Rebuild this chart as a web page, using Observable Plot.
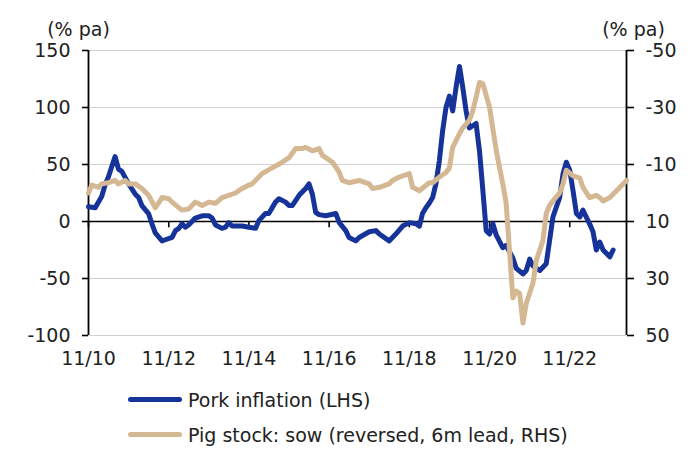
<!DOCTYPE html>
<html>
<head>
<meta charset="utf-8">
<script src="https://cdn.jsdelivr.net/npm/d3@7"></script>
<script src="https://cdn.jsdelivr.net/npm/@observablehq/plot@0.6"></script>
<style>
  html, body { margin: 0; padding: 0; background: #fff; }
  body { width: 696px; height: 451px; overflow: hidden; font-family: "DejaVu Sans", sans-serif; color: #222; }
  #legend { padding-left: 128px; margin-top: 7px; }
  .row { display: flex; align-items: center; height: 35px; font-size: 19px; }
  .sw { width: 54px; height: 5px; border-radius: 3px; margin-right: 6px; }
</style>
</head>
<body>
<div id="chart"></div>
<div id="legend"></div>
<script>
// ---- data ----
const porkDates = ["2010-11","2011-01","2011-03","2011-04","2011-05","2011-07","2011-08","2011-09","2011-11","2012-01","2012-02","2012-03","2012-05","2012-06","2012-07","2012-09","2012-10","2012-12","2013-01","2013-02","2013-03","2013-04","2013-05","2013-07","2013-09","2013-11","2013-12","2014-01","2014-03","2014-04","2014-05","2014-06","2014-09","2014-11","2015-01","2015-02","2015-04","2015-05","2015-07","2015-08","2015-10","2015-11","2015-12","2016-02","2016-04","2016-05","2016-06","2016-07","2016-08","2016-10","2017-01","2017-02","2017-04","2017-05","2017-07","2017-08","2017-11","2018-01","2018-02","2018-05","2018-07","2018-09","2018-11","2019-01","2019-02","2019-03","2019-04","2019-05","2019-06","2019-07","2019-08","2019-09","2019-10","2019-11","2019-12","2020-01","2020-02","2020-03","2020-04","2020-05","2020-07","2020-08","2020-09","2020-10","2020-11","2020-12","2021-01","2021-03","2021-04","2021-06","2021-07","2021-09","2021-10","2021-11","2021-12","2022-02","2022-04","2022-05","2022-06","2022-08","2022-09","2022-10","2022-11","2022-12","2023-01","2023-02","2023-03","2023-05","2023-06","2023-07","2023-08","2023-09","2023-11","2023-12"];
const porkValues = [13,12,22,32,39,57,46,44,33,24,21,14,7,-2,-10,-17,-16,-14,-8,-6,-2,-5,-3,3,5,5,3,-3,-6,-5,-1,-4,-4,-5,-6,1,7,7,17,20,17,14,14,23,29,33,24,8,6,5,7,-1,-8,-14,-17,-14,-9,-8,-11,-17,-11,-4,-1,-2,-4,7,12,16,21,33,53,80,100,110,97,118,136,118,97,82,86,62,27,-8,-11,-2,-12,-23,-21,-32,-41,-46,-43,-33,-39,-43,-37,-17,4,21,42,52,45,27,7,4,10,-2,-9,-25,-18,-25,-31,-25];

const sowDates = ["2010-11","2010-12","2011-02","2011-03","2011-05","2011-07","2011-08","2011-10","2011-11","2012-01","2012-03","2012-05","2012-07","2012-09","2012-11","2012-12","2013-03","2013-05","2013-07","2013-09","2013-11","2014-01","2014-03","2014-05","2014-07","2014-09","2014-11","2014-12","2015-03","2015-06","2015-09","2015-11","2016-01","2016-03","2016-04","2016-06","2016-08","2016-09","2016-12","2017-02","2017-03","2017-05","2017-08","2017-11","2017-12","2018-02","2018-05","2018-06","2018-08","2018-11","2018-12","2019-02","2019-05","2019-06","2019-08","2019-10","2019-11","2019-12","2020-02","2020-03","2020-05","2020-06","2020-07","2020-08","2020-09","2020-11","2021-01","2021-03","2021-04","2021-05","2021-06","2021-07","2021-08","2021-09","2021-10","2021-12","2022-01","2022-03","2022-04","2022-05","2022-06","2022-08","2022-09","2022-10","2022-12","2023-02","2023-03","2023-05","2023-07","2023-08","2023-09","2023-11","2024-01","2024-04"];
// RHS units (reversed axis)
const sowValues = [0,-2.8,-2,-3.2,-3.6,-4.4,-3.2,-4.4,-3.2,-3.2,-1.6,0.8,5.2,1.6,2,3.2,6,5.6,3.2,4.4,3.2,3.6,1.6,0.8,0,-1.6,-2.8,-3.2,-6.8,-8.8,-10.8,-12.4,-15.6,-15.6,-16,-14.8,-15.6,-13.2,-10.8,-7.2,-4.4,-3.6,-4.4,-3.2,-1.6,-2,-3.2,-4.4,-5.6,-6.8,-2,-0.8,-3.6,-3.6,-5.6,-7.2,-8.8,-16,-20.8,-22.8,-25.6,-28.8,-33.6,-38.8,-38.4,-30,-14.8,-3.2,3.6,20,36.8,34.4,35.2,45.6,38.8,31.6,23.6,16.8,7.2,4.4,2.8,0,-3.2,-8,-6,-5.2,-2,1.6,0.8,1.6,2.8,1.6,-0.8,-4.4];

const xDomain = ["2010-11","2024-04"];
const xTickDates = ["2010-11","2012-11","2014-11","2016-11","2018-11","2020-11","2022-11"];
const leftTicks = [150,100,50,0,-50,-100];
const leftTickLabels = ["150","100","50","0","-50","-100"];
const rightTickLabels = ["-50","-30","-10","10","30","50"];
const rhsAtLeftZero = 10;      // RHS value aligned with LHS 0
const rhsPerLhs = -0.4;        // RHS units per LHS unit (reversed)
const seriesNames = ["Pork inflation (LHS)", "Pig stock: sow (reversed, 6m lead, RHS)"];
const colors = ["#16339a", "#d4b894"];
const unitLabel = "(% pa)";

// ---- build ----
const parse = d3.utcParse("%Y-%m");
const pork = porkDates.map((d, i) => ({date: parse(d), v: porkValues[i]}));
const sow = sowDates.map((d, i) => ({date: parse(d), v: (sowValues[i] - rhsAtLeftZero) / rhsPerLhs}));
const xd = xDomain.map(parse);
const xt = xTickDates.map(parse);

const font = "DejaVu Sans, sans-serif";
const chart = Plot.plot({
  width: 696,
  height: 375,
  marginTop: 50,
  marginBottom: 40,
  marginLeft: 88,
  marginRight: 70,
  style: {fontFamily: font, fontSize: "19px", color: "#222", background: "#fff"},
  x: {type: "utc", domain: xd},
  y: {domain: [-100, 150]},
  marks: [
    Plot.ruleY(leftTicks.filter(d => d !== 0), {stroke: "#d0d0d0", strokeWidth: 1.2}),
    Plot.ruleY([0], {stroke: "#000", strokeWidth: 1.6}),
    Plot.ruleX(xt, {y1: 0, y2: -5.5, stroke: "#000", strokeWidth: 1.6}),
    Plot.ruleX([xd[0]], {y1: -100, y2: 150, stroke: "#000", strokeWidth: 1.8}),
    Plot.ruleX([xd[1]], {y1: -100, y2: 150, stroke: "#000", strokeWidth: 1.8}),
    Plot.axisY({ticks: leftTicks, tickFormat: d => leftTickLabels[leftTicks.indexOf(d)], tickSize: 6, tickPadding: 12, label: null, stroke: "#000", strokeWidth: 1.6}),
    Plot.axisY({anchor: "right", ticks: leftTicks, tickFormat: d => rightTickLabels[leftTicks.indexOf(d)], tickSize: 7, tickPadding: 12, label: null, stroke: "#000", strokeWidth: 1.6}),
    Plot.axisX({ticks: xt, tickFormat: d3.utcFormat("%m/%y"), tickSize: 0, tickPadding: 16, label: null}),
    Plot.line(pork, {x: "date", y: "v", stroke: colors[0], strokeWidth: 5, strokeLinejoin: "round", strokeLinecap: "round"}),
    Plot.line(sow, {x: "date", y: "v", stroke: colors[1], strokeWidth: 5, strokeLinejoin: "round", strokeLinecap: "round"}),
    Plot.text([unitLabel], {text: d => d, frameAnchor: "top-left", textAnchor: "middle", dx: -10, dy: -28, fontSize: 19, fill: "#222"}),
    Plot.text([unitLabel], {text: d => d, frameAnchor: "top-right", textAnchor: "middle", dx: 7, dy: -28, fontSize: 19, fill: "#222"})
  ]
});
document.getElementById("chart").appendChild(chart);

const legend = document.getElementById("legend");
seriesNames.forEach((name, i) => {
  const row = document.createElement("div");
  row.className = "row";
  const sw = document.createElement("span");
  sw.className = "sw";
  sw.style.background = colors[i];
  const t = document.createElement("span");
  t.textContent = name;
  row.appendChild(sw);
  row.appendChild(t);
  legend.appendChild(row);
});
</script>
</body>
</html>
